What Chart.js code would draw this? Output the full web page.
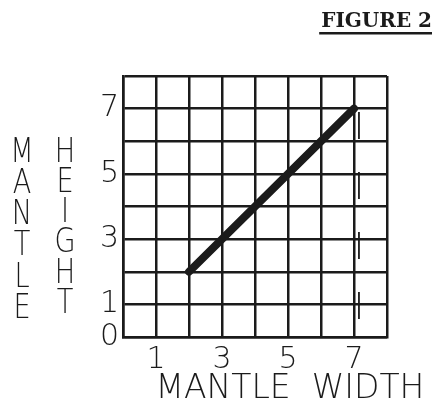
<!DOCTYPE html>
<html>
<head>
<meta charset="utf-8">
<script src="https://cdn.jsdelivr.net/npm/chart.js@4"></script>
<style>
  html, body { margin: 0; padding: 0; background: #fff; }
  #wrap { width: 434px; height: 406px; }
</style>
</head>
<body>
<div id="wrap"><canvas id="mantleChart" width="434" height="406"></canvas></div>
<script>
// data
const mantleWidth = [2, 7];
const mantleHeight = [2, 7];
const xTickLabels = [1, 3, 5, 7];
const yTickLabels = [0, 1, 3, 5, 7];
// faint broken line next to x = 7 on the scan
const scanLineX = [7.15, 7.15];
const scanLineY = [6.9, 0.2];

const figureTitle = 'FIGURE 2';
const xTitle = 'MANTLE  WIDTH';
const yTitleLeft = 'MANTLE';
const yTitleRight = 'HEIGHT';

const ink = '#1b1b1b';
const thinFont = 'DejaVu Sans';

const toPoints = (xs, ys) => xs.map((x, i) => ({ x: x, y: ys[i] }));

// stacked upright letters, x title shifted right, underlined figure title
const extraText = {
    id: 'extraText',
    afterDraw(chart) {
        const ctx = chart.ctx;
        ctx.save();
        ctx.fillStyle = ink;
        ctx.textAlign = 'center';
        ctx.textBaseline = 'middle';
        ctx.font = '200 34px "' + thinFont + '"';
        const stack = (word, cx, top, step) => {
            [...word].forEach((ch, i) => {
                ctx.save();
                ctx.translate(cx, top + i * step);
                ctx.scale(0.8, 1);
                ctx.fillText(ch, 0, 0);
                ctx.restore();
            });
        };
        stack(yTitleLeft, 22, 153, 31.2);
        stack(yTitleRight, 65, 153, 30.2);

        ctx.font = '200 33px "' + thinFont + '"';
        ctx.fillText(xTitle, 290, 389);

        ctx.font = 'bold 20px "DejaVu Serif"';
        ctx.textAlign = 'right';
        ctx.textBaseline = 'alphabetic';
        ctx.fillText(figureTitle, 432, 27);
        const w = ctx.measureText(figureTitle).width;
        ctx.fillRect(432 - w - 2, 32, w + 2, 2.5);
        ctx.restore();
    }
};

new Chart(document.getElementById('mantleChart'), {
    type: 'scatter',
    data: {
        datasets: [
            {
                data: toPoints(mantleWidth, mantleHeight),
                showLine: true,
                borderColor: ink,
                borderWidth: 8,
                borderCapStyle: 'round',
                pointRadius: 0,
            },
            {
                data: toPoints(scanLineX, scanLineY),
                showLine: true,
                borderColor: ink,
                borderWidth: 1.8,
                borderDash: [27, 33],
                pointRadius: 0,
            }
        ]
    },
    plugins: [extraText],
    options: {
        responsive: false,
        animation: false,
        layout: { padding: { left: 100, right: 47, top: 76, bottom: 0 } },
        plugins: {
            legend: { display: false },
            tooltip: { enabled: false },
        },
        scales: {
            x: {
                type: 'linear',
                min: 0,
                max: 8,
                afterFit: scale => { scale.height = 69; },
                ticks: {
                    stepSize: 1,
                    autoSkip: false,
                    maxRotation: 0,
                    color: ink,
                    padding: 5,
                    font: { family: thinFont, weight: 200, size: 30 },
                    callback: v => xTickLabels.includes(v) ? String(v) : '',
                },
                grid: { color: ink, lineWidth: 2.5, drawTicks: false },
                border: { color: ink, width: 2.5 },
            },
            y: {
                min: 0,
                max: 8,
                afterFit: scale => { scale.width = 23; },
                ticks: {
                    stepSize: 1,
                    autoSkip: false,
                    color: ink,
                    padding: 4,
                    font: { family: thinFont, weight: 200, size: 30 },
                    callback: v => yTickLabels.includes(v) ? String(v) : '',
                },
                grid: { color: ink, lineWidth: 2.5, drawTicks: false },
                border: { color: ink, width: 2.5 },
            }
        }
    }
});
</script>
</body>
</html>
